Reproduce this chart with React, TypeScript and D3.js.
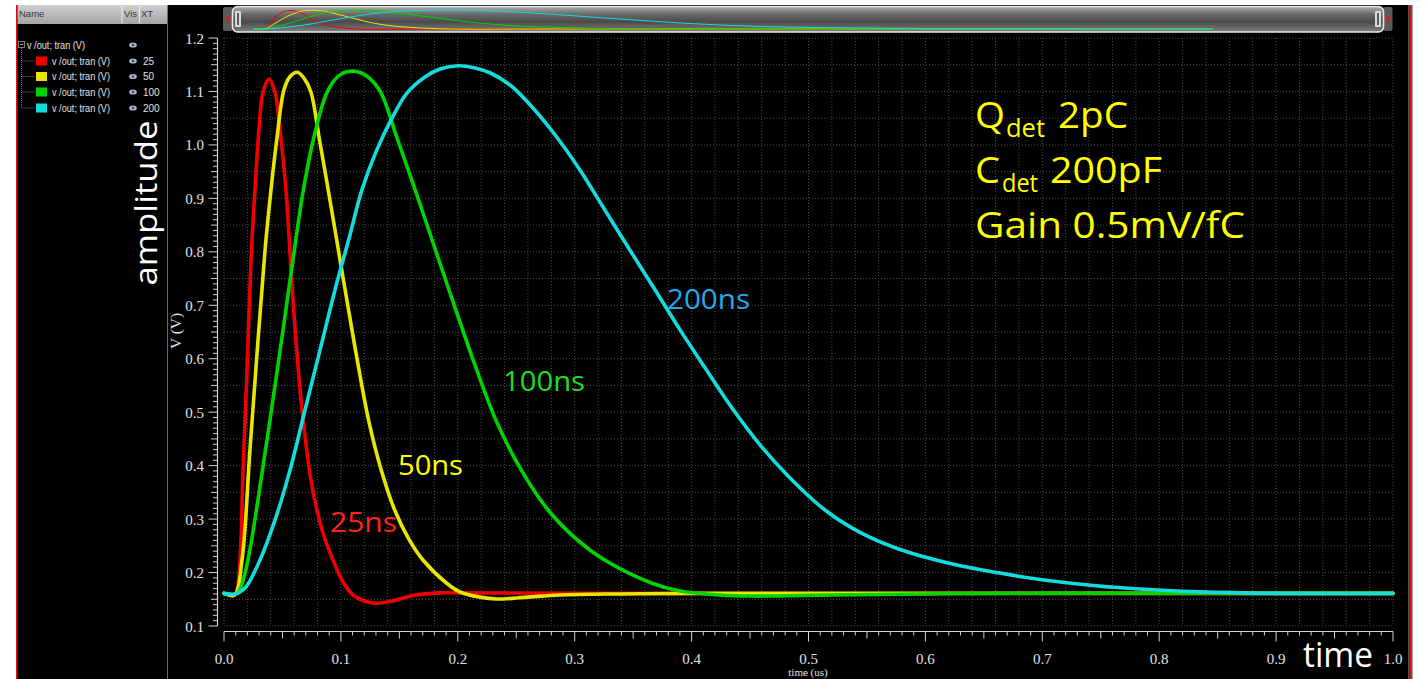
import React from "react";
import * as d3 from "d3";

// Transient output v(out) for four shaping times, [time (us), volts]
const SHAPING_LABELS = ["25", "50", "100", "200"];
const CURVE_LABELS = ["25ns", "50ns", "100ns", "200ns"];

const trace25: [number, number][] = [
  [0, 0.161], [0.008, 0.157], [0.0105, 0.162], [0.0137, 0.2235], [0.0163, 0.392],
  [0.0197, 0.579], [0.0231, 0.785], [0.0265, 0.916], [0.0299, 1.028], [0.0334, 1.099],
  [0.0385, 1.123], [0.0436, 1.099], [0.0479, 1.028], [0.053, 0.916], [0.059, 0.71],
  [0.0659, 0.523], [0.0744, 0.373], [0.0838, 0.28], [0.0932, 0.2235], [0.1009, 0.186],
  [0.1104, 0.158], [0.1275, 0.143], [0.1446, 0.147], [0.1617, 0.157], [0.1848, 0.162],
  [0.2019, 0.162], [0.32, 0.161], [1.0, 0.161],
];

const trace50: [number, number][] = [
  [0, 0.161], [0.0091, 0.158], [0.0154, 0.2235], [0.0222, 0.429], [0.0291, 0.635],
  [0.0351, 0.803], [0.0402, 0.916], [0.0451, 1.009], [0.0513, 1.103], [0.0565, 1.128],
  [0.0627, 1.136], [0.0684, 1.125], [0.0742, 1.1], [0.0815, 1.012], [0.09, 0.905],
  [0.0985, 0.795], [0.1065, 0.692], [0.115, 0.585], [0.124, 0.482], [0.1345, 0.392],
  [0.146, 0.317], [0.158, 0.263], [0.1702, 0.2235], [0.1905, 0.18], [0.2019, 0.1636],
  [0.219, 0.154], [0.2335, 0.1505], [0.2592, 0.154], [0.2874, 0.158], [0.3388, 0.16],
  [0.407, 0.161], [1.0, 0.161],
];

const trace100: [number, number][] = [
  [0, 0.161], [0.0103, 0.16], [0.0145, 0.173], [0.0205, 0.2235], [0.0291, 0.336],
  [0.0393, 0.485], [0.0505, 0.654], [0.059, 0.785], [0.0676, 0.912], [0.0773, 1.018],
  [0.0887, 1.101], [0.0992, 1.131], [0.1106, 1.138], [0.1221, 1.129], [0.1336, 1.1],
  [0.1482, 1.012], [0.1652, 0.905], [0.1822, 0.795], [0.1982, 0.692], [0.2152, 0.585],
  [0.2332, 0.482], [0.2542, 0.392], [0.2772, 0.317], [0.3012, 0.263], [0.3256, 0.2235],
  [0.3662, 0.18], [0.389, 0.166], [0.4232, 0.158], [0.4522, 0.156], [0.52, 0.158],
  [0.6, 0.16], [0.71, 0.161], [1.0, 0.161],
];

const trace200: [number, number][] = [
  [0, 0.161], [0.0094, 0.16], [0.018, 0.171], [0.0308, 0.2235], [0.0436, 0.298],
  [0.0565, 0.392], [0.0693, 0.504], [0.0821, 0.616], [0.095, 0.729], [0.1078, 0.832],
  [0.118, 0.916], [0.13, 0.987], [0.1437, 1.05], [0.1565, 1.097], [0.1719, 1.127],
  [0.1848, 1.142], [0.2002, 1.148], [0.2147, 1.144], [0.2275, 1.135], [0.2447, 1.112],
  [0.2618, 1.075], [0.2831, 1.019], [0.3045, 0.953], [0.3259, 0.878], [0.3473, 0.803],
  [0.3687, 0.729], [0.3901, 0.654], [0.4115, 0.583], [0.4329, 0.513], [0.4585, 0.439],
  [0.4842, 0.377], [0.5141, 0.317], [0.5441, 0.275], [0.5783, 0.243], [0.621, 0.217],
  [0.6638, 0.199], [0.692, 0.189], [0.7211, 0.181], [0.7639, 0.172], [0.8067, 0.1665],
  [0.8631, 0.1625], [0.92, 0.161], [1.0, 0.161],
];

const traces = [trace25, trace50, trace100, trace200];
const traceColors = ["#ee0000", "#e6e600", "#00d400", "#14dcdc"];
const labelColors = ["#ff2222", "#ffff00", "#22dd22", "#22aaee"];

const xTickLabels = ["0.0", "0.1", "0.2", "0.3", "0.4", "0.5", "0.6", "0.7", "0.8", "0.9", "1.0"];
const yTickLabels = ["0.1", "0.2", "0.3", "0.4", "0.5", "0.6", "0.7", "0.8", "0.9", "1.0", "1.1", "1.2"];

const serif = "'Liberation Serif', 'DejaVu Serif', serif";
const sans = "'Liberation Sans', 'DejaVu Sans', sans-serif";
const humanist = "'Open Sans', 'Noto Sans', sans-serif";

export default function App() {
  const W = 1425;
  const H = 679;

  const x = d3.scaleLinear().domain([0, 1]).range([224, 1393]);
  const y = d3.scaleLinear().domain([0.1, 1.2]).range([626, 38]);

  // overview strip inside the scroll thumb
  const xm = d3.scaleLinear().domain([0, 1]).range([253, 1213]);
  const ym = d3.scaleLinear().domain([0.16, 1.15]).range([29, 10]);

  const line = d3
    .line<[number, number]>()
    .x((d) => x(d[0]))
    .y((d) => y(d[1]))
    .curve(d3.curveCatmullRom.alpha(0.5));

  const miniLine = d3
    .line<[number, number]>()
    .x((d) => xm(d[0]))
    .y((d) => ym(d[1]))
    .curve(d3.curveCatmullRom.alpha(0.5));

  const vGrid = d3.range(0, 51).map((i) => i * 0.02);
  const hGrid = d3.range(0, 23).map((i) => 0.1 + i * 0.05);
  const yMinor = d3.range(0, 111);
  const xMinor = d3.range(0, 101);

  const legendRows = [61, 76.5, 92, 108];

  const eye = (cx: number, cy: number, key: string) => (
    <g key={key}>
      <ellipse cx={cx} cy={cy} rx={3.8} ry={2.6} fill="#a8bcd0" />
      <circle cx={cx} cy={cy} r={1.3} fill="#2c4a78" />
    </g>
  );

  return (
    <div style={{ position: "absolute", left: 0, top: 0 }}>
      <svg width={W} height={H} viewBox={`0 0 ${W} ${H}`} style={{ display: "block" }}>
        <defs>
          <linearGradient id="hdr" x1="0" y1="0" x2="0" y2="1">
            <stop offset="0" stopColor="#d0d0d0" />
            <stop offset="1" stopColor="#a4a4a4" />
          </linearGradient>
          <linearGradient id="thumb" x1="0" y1="0" x2="0" y2="1">
            <stop offset="0" stopColor="#b0b0b0" />
            <stop offset="0.3" stopColor="#6a6a6a" />
            <stop offset="0.6" stopColor="#4a4a4a" />
            <stop offset="1" stopColor="#808080" />
          </linearGradient>
          <clipPath id="thumbClip">
            <rect x={243} y={8} width={1132} height={22} />
          </clipPath>
        </defs>

        {/* page frame */}
        <rect x={0} y={0} width={W} height={H} fill="#ffffff" />
        <rect x={16} y={5} width={1397} height={H - 5} fill="#000000" />
        <rect x={16} y={5} width={1.6} height={H - 5} fill="#dd1111" />
        <rect x={1408} y={5} width={1.5} height={H - 5} fill="#555555" />
        <rect x={1409.5} y={5} width={2} height={H - 5} fill="#dd1111" />
        <rect x={1411.5} y={5} width={1.5} height={H - 5} fill="#9a9a9a" />

        {/* signal browser panel */}
        <rect x={17.6} y={5} width={150} height={19} fill="url(#hdr)" />
        <line x1={122} x2={122} y1={6} y2={23} stroke="#eeeeee" />
        <line x1={139.5} x2={139.5} y1={6} y2={23} stroke="#eeeeee" />
        <text x={19} y={17} fontFamily={sans} fontSize={9.5} fill="#3a3a3a">Name</text>
        <text x={124} y={17} fontFamily={sans} fontSize={9.5} fill="#3a3a3a">Vis</text>
        <text x={141} y={17} fontFamily={sans} fontSize={9.5} fill="#3a3a3a">XT</text>
        <line x1={167.5} x2={167.5} y1={24} y2={H} stroke="#6a6a6a" />

        <rect x={18.5} y={41.5} width={6} height={6} fill="none" stroke="#999" strokeWidth={0.8} />
        <line x1={19.8} x2={23.2} y1={44.5} y2={44.5} stroke="#ccc" strokeWidth={0.8} />
        <text x={27} y={48.5} fontFamily={sans} fontSize={10} fill="#e0e0e0" textLength={58} lengthAdjust="spacingAndGlyphs">
          v /out; tran (V)
        </text>
        {eye(133, 45, "eye0")}
        <line x1={21.5} x2={21.5} y1={48} y2={108} stroke="#777" strokeDasharray="1 1" />
        {legendRows.map((cy, i) => (
          <g key={`leg${i}`}>
            <line x1={21.5} x2={35} y1={cy} y2={cy} stroke="#777" strokeDasharray="1 1" />
            <rect x={36} y={cy - 4.5} width={11} height={9} fill={traceColors[i]} />
            <text x={52} y={cy + 3.8} fontFamily={sans} fontSize={10} fill="#e0e0e0" textLength={58} lengthAdjust="spacingAndGlyphs">
              v /out; tran (V)
            </text>
            {eye(133, cy, `eye${i + 1}`)}
            <text x={143} y={cy + 3.8} fontFamily={sans} fontSize={10} fill="#e0e0e0">
              {SHAPING_LABELS[i]}
            </text>
          </g>
        ))}

        {/* scroll bar with overview of the traces */}
        <rect x={223} y={7} width={10} height={24} rx={2} fill="#5a5a5a" />
        <path d="M225,19 L229.5,16 L229.5,22 Z" fill="#ee1111" />
        <rect x={1383} y={7} width={9.5} height={24} rx={2} fill="#5a5a5a" />
        <path d="M1391,19 L1386.5,16 L1386.5,22 Z" fill="#ee1111" />
        <rect x={232.5} y={6.5} width={1151} height={25.5} rx={5} fill="url(#thumb)" stroke="#e8e8e8" strokeWidth={1.6} />
        <rect x={235} y={11} width={6} height={16} rx={1} fill="#d8d8d8" />
        <line x1={238} x2={238} y1={13} y2={25} stroke="#333" strokeWidth={1.5} />
        <rect x={1375} y={11} width={6} height={16} rx={1} fill="#d8d8d8" />
        <line x1={1378} x2={1378} y1={13} y2={25} stroke="#333" strokeWidth={1.5} />
        <g clipPath="url(#thumbClip)">
          {traces.map((tr, i) => (
            <path key={`mini${i}`} d={miniLine(tr) || ""} fill="none" stroke={traceColors[i]} strokeWidth={1} />
          ))}
        </g>

        {/* grid */}
        {vGrid.map((t, i) => (
          <line key={`vg${i}`} x1={x(t)} x2={x(t)} y1={y(1.2)} y2={y(0.1)} stroke="#4a4a4a" strokeWidth={1} strokeDasharray="1 2" />
        ))}
        {hGrid.map((v, i) => (
          <line key={`hg${i}`} x1={x(0)} x2={x(1)} y1={y(v)} y2={y(v)} stroke="#4a4a4a" strokeWidth={1} strokeDasharray="1 2" />
        ))}

        {/* y axis */}
        <line x1={217.5} x2={217.5} y1={y(1.2)} y2={y(0.1)} stroke="#cfcfcf" strokeWidth={1.2} />
        {yMinor.map((i) => {
          const v = 0.1 + i * 0.01;
          const len = i % 10 === 0 ? 9 : i % 5 === 0 ? 6.5 : 4.5;
          return (
            <line key={`yt${i}`} x1={217.5 - len} x2={217.5} y1={y(v)} y2={y(v)} stroke="#cfcfcf" strokeWidth={1} />
          );
        })}
        {yTickLabels.map((lab) => (
          <text key={`yl${lab}`} x={204} y={y(+lab) + 5.5} textAnchor="end" fontFamily={serif} fontSize={15} fill="#e2e2e2">
            {lab}
          </text>
        ))}
        <text transform={`translate(181,331) rotate(-90)`} textAnchor="middle" fontFamily={serif} fontSize={14} fill="#e2e2e2" textLength={36} lengthAdjust="spacingAndGlyphs">
          V (V)
        </text>

        {/* x axis */}
        <line x1={x(0)} x2={x(1)} y1={631.5} y2={631.5} stroke="#cfcfcf" strokeWidth={1.2} />
        {xMinor.map((i) => {
          const t = i * 0.01;
          const len = i % 10 === 0 ? 10 : i % 5 === 0 ? 7 : 4;
          return (
            <line key={`xt${i}`} x1={x(t)} x2={x(t)} y1={631.5} y2={631.5 + len} stroke="#cfcfcf" strokeWidth={1} />
          );
        })}
        {xTickLabels.map((lab) => (
          <text key={`xl${lab}`} x={x(+lab)} y={663.5} textAnchor="middle" fontFamily={serif} fontSize={15} fill="#e2e2e2">
            {lab}
          </text>
        ))}
        <text x={808} y={676} textAnchor="middle" fontFamily={serif} fontSize={11} fill="#e2e2e2">
          time (us)
        </text>

        {/* traces */}
        {traces.map((tr, i) => (
          <path key={`tr${i}`} d={line(tr) || ""} fill="none" stroke={traceColors[i]} strokeWidth={3.6} strokeLinejoin="round" strokeLinecap="round" />
        ))}

        {/* curve labels */}
        <text x={330} y={532} fontFamily={humanist} fontSize={27} fill={labelColors[0]} textLength={67} lengthAdjust="spacingAndGlyphs">{CURVE_LABELS[0]}</text>
        <text x={398} y={475} fontFamily={humanist} fontSize={27} fill={labelColors[1]} textLength={65} lengthAdjust="spacingAndGlyphs">{CURVE_LABELS[1]}</text>
        <text x={503} y={391} fontFamily={humanist} fontSize={27} fill={labelColors[2]} textLength={82} lengthAdjust="spacingAndGlyphs">{CURVE_LABELS[2]}</text>
        <text x={667} y={309} fontFamily={humanist} fontSize={27} fill={labelColors[3]} textLength={83} lengthAdjust="spacingAndGlyphs">{CURVE_LABELS[3]}</text>

        {/* detector annotation */}
        <g fontFamily={humanist} fill="#ffff00">
          <text x={975} y={128} fontSize={37} textLength={30} lengthAdjust="spacingAndGlyphs">Q</text>
          <text x={1006} y={137} fontSize={25} textLength={39} lengthAdjust="spacingAndGlyphs">det</text>
          <text x={1058} y={128} fontSize={37} textLength={70} lengthAdjust="spacingAndGlyphs">2pC</text>
          <text x={975} y={183} fontSize={37} textLength={25} lengthAdjust="spacingAndGlyphs">C</text>
          <text x={1002} y={192} fontSize={25} textLength={36} lengthAdjust="spacingAndGlyphs">det</text>
          <text x={1050} y={183} fontSize={37} textLength={112} lengthAdjust="spacingAndGlyphs">200pF</text>
          <text x={975} y={238} fontSize={37} textLength={270} lengthAdjust="spacingAndGlyphs">Gain 0.5mV/fC</text>
        </g>

        {/* big axis captions */}
        <text transform="translate(157,203) rotate(-90)" textAnchor="middle" fontFamily={humanist} fontSize={31} fill="#ffffff" textLength={165} lengthAdjust="spacingAndGlyphs">
          amplitude
        </text>
        <text x={1303} y={667} fontFamily={humanist} fontSize={34} fill="#ffffff" textLength={70} lengthAdjust="spacingAndGlyphs">
          time
        </text>
      </svg>
    </div>
  );
}
